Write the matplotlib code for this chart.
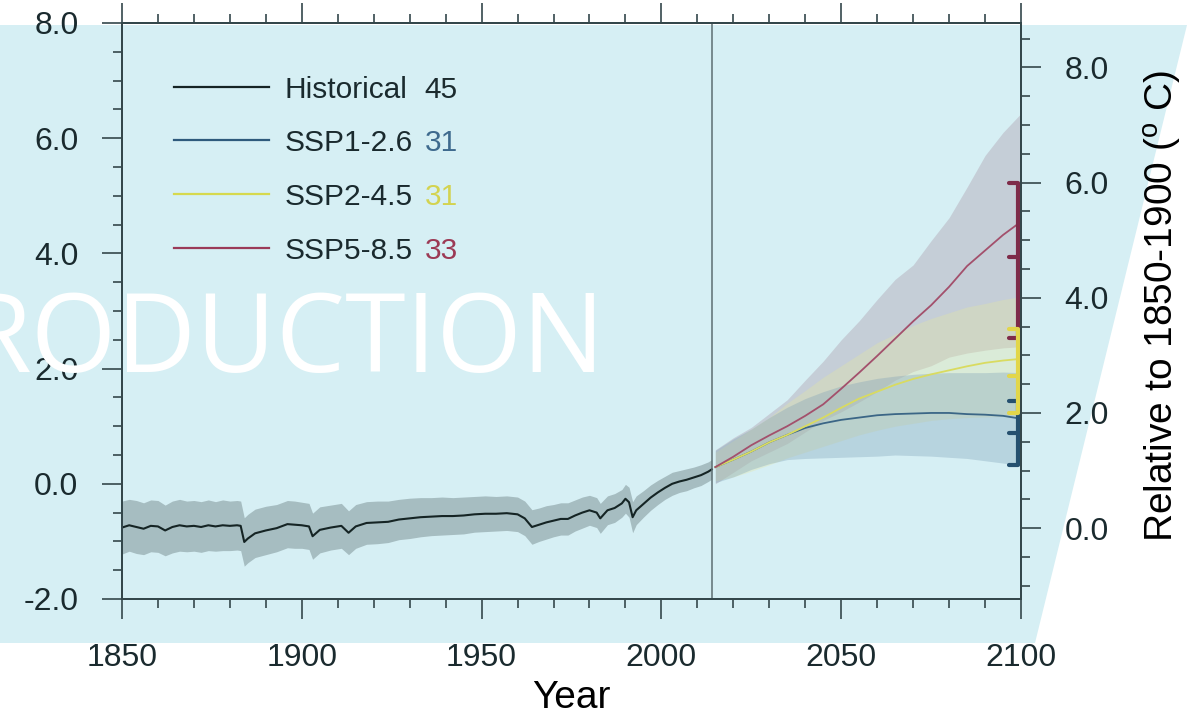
import numpy as np
import matplotlib.pyplot as plt
from matplotlib.patches import Polygon
from matplotlib.ticker import MultipleLocator, FuncFormatter

plt.rcParams['font.family'] = ['Liberation Sans', 'DejaVu Sans']
plt.rcParams['mathtext.fontset'] = 'custom'
plt.rcParams['mathtext.rm'] = 'Liberation Sans'

axcol = '#34474b'
txtcol = '#1a2a2e'
for k in ('xtick', 'ytick'):
    plt.rcParams[k + '.direction'] = 'out'
    plt.rcParams[k + '.major.size'] = 14.4
    plt.rcParams[k + '.minor.size'] = 6.5
    plt.rcParams[k + '.major.width'] = 1.2
    plt.rcParams[k + '.minor.width'] = 1.2
    plt.rcParams[k + '.major.pad'] = 17
    plt.rcParams[k + '.labelsize'] = 23
    plt.rcParams[k + '.color'] = axcol
    plt.rcParams[k + '.labelcolor'] = txtcol

# global mean temperature anomaly (deg C, left axis baseline)
hist_years = [1850, 1852, 1854, 1856, 1858, 1860, 1862, 1864, 1866, 1868, 1870, 1872,
              1874, 1876, 1878, 1880, 1882, 1883, 1884, 1885, 1887, 1890, 1893, 1896,
              1898, 1900, 1902, 1903, 1905, 1908, 1911, 1913, 1915, 1918, 1921, 1924,
              1927, 1930, 1933, 1936, 1939, 1942, 1945, 1948, 1951, 1954, 1957, 1960,
              1962, 1964, 1966, 1968, 1970, 1972, 1974, 1976, 1978, 1980, 1982, 1983,
              1985, 1987, 1989, 1990, 1991, 1992, 1993, 1995, 1997, 1999, 2001, 2003,
              2005, 2007, 2009, 2011, 2013, 2014]
hist_mean = [-0.76, -0.72, -0.75, -0.78, -0.73, -0.74, -0.81, -0.75, -0.72, -0.74, -0.73, -0.75,
             -0.72, -0.74, -0.72, -0.73, -0.72, -0.73, -1.01, -0.95, -0.86, -0.81, -0.77, -0.70,
             -0.71, -0.72, -0.74, -0.91, -0.80, -0.76, -0.73, -0.85, -0.74, -0.68, -0.67, -0.66,
             -0.62, -0.60, -0.58, -0.57, -0.56, -0.56, -0.55, -0.53, -0.52, -0.52, -0.51, -0.53,
             -0.60, -0.75, -0.71, -0.67, -0.64, -0.61, -0.61, -0.55, -0.50, -0.46, -0.50, -0.60,
             -0.46, -0.42, -0.34, -0.26, -0.32, -0.58, -0.46, -0.35, -0.24, -0.15, -0.07, 0.00,
             0.04, 0.07, 0.11, 0.15, 0.21, 0.25]
hist_spread = [0.46, 0.45, 0.46, 0.45, 0.45, 0.45, 0.44, 0.45, 0.45, 0.44, 0.44, 0.44,
               0.44, 0.43, 0.44, 0.43, 0.43, 0.43, 0.42, 0.42, 0.42, 0.42, 0.41, 0.41,
               0.41, 0.40, 0.40, 0.40, 0.40, 0.39, 0.39, 0.38, 0.38, 0.37, 0.37, 0.36,
               0.35, 0.35, 0.34, 0.33, 0.33, 0.32, 0.32, 0.31, 0.31, 0.30, 0.30, 0.30,
               0.30, 0.30, 0.29, 0.29, 0.28, 0.28, 0.28, 0.27, 0.27, 0.26, 0.26, 0.26,
               0.25, 0.25, 0.24, 0.25, 0.26, 0.27, 0.25, 0.23, 0.22, 0.21, 0.20, 0.20,
               0.19, 0.19, 0.18, 0.18, 0.17, 0.17]

ssp_years = np.arange(2015, 2101, 5)
ssp126_mean = [0.29, 0.42, 0.56, 0.72, 0.85, 0.97, 1.05, 1.11, 1.15, 1.19, 1.21, 1.22, 1.23, 1.23, 1.21, 1.20, 1.18, 1.13]
ssp126_hi = [0.58, 0.78, 0.95, 1.15, 1.33, 1.48, 1.60, 1.70, 1.77, 1.83, 1.87, 1.90, 1.92, 1.93, 1.93, 1.93, 1.94, 1.93]
ssp126_lo = [0.02, 0.12, 0.25, 0.35, 0.42, 0.44, 0.45, 0.46, 0.47, 0.48, 0.50, 0.49, 0.48, 0.46, 0.44, 0.40, 0.36, 0.31]
ssp245_mean = [0.29, 0.42, 0.56, 0.72, 0.85, 1.00, 1.15, 1.32, 1.48, 1.60, 1.72, 1.82, 1.90, 1.97, 2.04, 2.10, 2.14, 2.17]
ssp245_hi = [0.55, 0.75, 0.95, 1.15, 1.40, 1.62, 1.85, 2.05, 2.25, 2.45, 2.60, 2.75, 2.87, 2.97, 3.07, 3.13, 3.20, 3.25]
ssp245_lo = [0.05, 0.12, 0.22, 0.33, 0.45, 0.55, 0.65, 0.75, 0.85, 0.93, 1.00, 1.05, 1.10, 1.13, 1.15, 1.16, 1.17, 1.18]
ssp585_mean = [0.29, 0.47, 0.67, 0.84, 1.00, 1.18, 1.38, 1.65, 1.93, 2.22, 2.52, 2.82, 3.10, 3.42, 3.78, 4.05, 4.32, 4.55]
ssp585_hi = [0.59, 0.80, 0.98, 1.22, 1.46, 1.80, 2.13, 2.50, 2.83, 3.20, 3.55, 3.80, 4.22, 4.62, 5.15, 5.70, 6.10, 6.43]
ssp585_lo = [0.00, 0.20, 0.40, 0.55, 0.70, 0.90, 1.10, 1.25, 1.42, 1.60, 1.80, 1.95, 2.05, 2.20, 2.27, 2.32, 2.36, 2.38]

# 2081-2100 ranges relative to 1850-1900: low, middle, high
bar_names = ['SSP5-8.5', 'SSP1-2.6', 'SSP2-4.5']
bar_lo = [3.3, 1.1, 2.0]
bar_mid = [4.7, 1.65, 2.65]
bar_hi = [6.0, 2.2, 3.45]

labels = ['Historical', 'SSP1-2.6', 'SSP2-4.5', 'SSP5-8.5']
counts = ['45', '31', '31', '33']
offset = 0.77  # shift between the two y axes

c_hist = '#152424'
c_line = {'SSP1-2.6': '#3b6686', 'SSP2-4.5': '#d9db60', 'SSP5-8.5': '#a3506c'}
c_leg = ['#152424', '#2e5a7c', '#d6d94e', '#9a3a58']
c_num = ['#1c2b2e', '#3e6a8e', '#d3d350', '#9c3a55']
c_band = {'SSP1-2.6': '#7fa2b8', 'SSP2-4.5': '#e3e5a4', 'SSP5-8.5': '#a792a1'}
c_bar = {'SSP1-2.6': '#25506f', 'SSP2-4.5': '#e2d64a', 'SSP5-8.5': '#7e2b49'}

fig = plt.figure(figsize=(11.91, 7.27), dpi=100)
bg = Polygon([(0, 1 - 25 / 727), (1187 / 1191, 1 - 25 / 727),
              (1035 / 1191, 1 - 643 / 727), (0, 1 - 643 / 727)],
             closed=True, transform=fig.transFigure, facecolor='#d6eff4', edgecolor='none')
bg.set_zorder(-1)
fig.add_artist(bg)

ax = fig.add_axes([122 / 1191, 1 - 599 / 727, 899 / 1191, 576 / 727])
ax.set_facecolor('none')

# historical
h_mean = np.array(hist_mean)
h_sp = np.array(hist_spread)
ax.fill_between(hist_years, h_mean - h_sp, h_mean + h_sp, color='#a6bdc1', lw=0)
ax.plot(hist_years, hist_mean, color=c_hist, lw=1.5)

# scenarios
scen = {'SSP1-2.6': (ssp126_lo, ssp126_mean, ssp126_hi),
        'SSP2-4.5': (ssp245_lo, ssp245_mean, ssp245_hi),
        'SSP5-8.5': (ssp585_lo, ssp585_mean, ssp585_hi)}
for name in ['SSP5-8.5', 'SSP2-4.5', 'SSP1-2.6']:
    lo, mid, hi = scen[name]
    ax.fill_between(ssp_years, lo, hi, color=c_band[name], alpha=0.35, lw=0)
for name in ['SSP1-2.6', 'SSP2-4.5', 'SSP5-8.5']:
    lo, mid, hi = scen[name]
    ax.plot(ssp_years, mid, color=c_line[name], lw=1.3)

ax.axvline(2014, color='#5d6e72', lw=1.1)

ax.set_xlim(1850, 2100)
ax.set_ylim(-2, 8)
ax.xaxis.set_major_locator(MultipleLocator(50))
ax.xaxis.set_minor_locator(MultipleLocator(10))
ax.yaxis.set_major_locator(MultipleLocator(2))
ax.yaxis.set_minor_locator(MultipleLocator(0.5))
ax.yaxis.set_major_formatter(FuncFormatter(lambda v, p: f'{v:.1f}'))
ax.tick_params(which='both', top=True, right=False)
for s in ax.spines.values():
    s.set_color(axcol)
    s.set_linewidth(1.4)
ax.set_xlabel('Year', fontsize=28, color='black', labelpad=5)

# right axis relative to 1850-1900
ax2 = ax.twinx()
ax2.set_ylim(-2 + offset, 8 + offset)
ax2.yaxis.set_major_locator(MultipleLocator(2))
ax2.yaxis.set_minor_locator(MultipleLocator(0.5))
ax2.yaxis.set_major_formatter(FuncFormatter(lambda v, p: f'{v:.1f}'))
for s in ax2.spines.values():
    s.set_color(axcol)
    s.set_linewidth(1.4)
ax2.set_ylabel(r'Relative to 1850-1900 ($^\mathrm{o}$ C)', fontsize=28, color='black', va='center')
ax2.yaxis.set_label_coords(1.158, 0.508)

# range bars at 2100
xb, xc = 2099.3, 2096.8
for i, name in enumerate(bar_names):
    col = c_bar[name]
    ax2.plot([xb, xb], [bar_lo[i], bar_hi[i]], color=col, lw=3, solid_capstyle='butt', clip_on=False)
    for v in (bar_lo[i], bar_mid[i], bar_hi[i]):
        ax2.plot([xc, xb], [v, v], color=col, lw=3, solid_capstyle='round', clip_on=False)

# legend drawn by hand so the counts can carry their own colours
leg_y = [0.8894, 0.7964, 0.7026, 0.6089]
for i in range(4):
    ax.plot([0.0578, 0.1635], [leg_y[i], leg_y[i]], color=c_leg[i], lw=1.6,
            transform=ax.transAxes)
    ax.text(0.1813, leg_y[i], labels[i], fontsize=21.5, color=txtcol,
            va='center_baseline', transform=ax.transAxes)
    ax.text(0.3365, leg_y[i], counts[i], fontsize=21.5, color=c_num[i],
            va='center_baseline', transform=ax.transAxes)

fig.text(605 / 1191, 1 - 372 / 727, 'RODUCTION', ha='right', va='baseline',
         fontsize=79, color='white', family='Open Sans', zorder=10)

fig.savefig('out.png', dpi=100, facecolor='white')
